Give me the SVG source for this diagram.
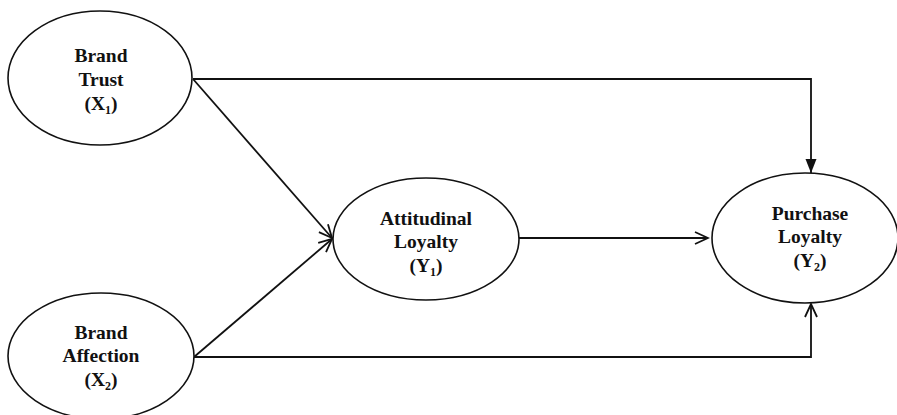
<svg xmlns="http://www.w3.org/2000/svg" width="897" height="415" viewBox="0 0 897 415">
<style>
.node{fill:#fff;stroke:#111;stroke-width:1.6}
.lbl{font-family:"Liberation Serif","Times New Roman",serif;font-weight:bold;font-size:19.5px;fill:#111;text-anchor:middle}
.sub{font-size:12px}
.c{fill:none;stroke:#111;stroke-width:1.8}
</style>
<defs>
<marker id="open" markerWidth="16" markerHeight="16" refX="14" refY="7" orient="auto" markerUnits="userSpaceOnUse">
<path d="M1,1 L14,7 L1,13" fill="none" stroke="#111" stroke-width="1.8"/>
</marker>
<marker id="solid" markerWidth="16" markerHeight="16" refX="14" refY="6" orient="auto" markerUnits="userSpaceOnUse">
<path d="M0,0.5 L14,6 L0,11.5 Z" fill="#111"/>
</marker>
</defs>
<g id="connectors">
<path class="c" d="M193,79 L811,79 L811,173" marker-end="url(#solid)"/>
<path class="c" d="M193,79 L332,238" marker-end="url(#open)"/>
<path class="c" d="M194,357 L332,239" marker-end="url(#open)"/>
<path class="c" d="M509,238 L708,238" marker-end="url(#open)"/>
<path class="c" d="M194,357 L811,357 L811,304" marker-end="url(#open)"/>
</g>
<g id="brand-trust">
<ellipse class="node" cx="100" cy="78" rx="92" ry="67"/>
<text class="lbl" x="101" y="62">Brand</text>
<text class="lbl" x="101" y="86">Trust</text>
<text class="lbl" x="101" y="110">(X<tspan class="sub" dy="4">1</tspan><tspan dy="-4">)</tspan></text>
</g>
<g id="brand-affection">
<ellipse class="node" cx="101" cy="356" rx="93" ry="63"/>
<text class="lbl" x="101" y="339">Brand</text>
<text class="lbl" x="101" y="362">Affection</text>
<text class="lbl" x="101" y="386">(X<tspan class="sub" dy="4">2</tspan><tspan dy="-4">)</tspan></text>
</g>
<g id="attitudinal-loyalty">
<ellipse class="node" cx="426" cy="239" rx="93" ry="61"/>
<text class="lbl" x="426" y="225">Attitudinal</text>
<text class="lbl" x="426" y="248">Loyalty</text>
<text class="lbl" x="426" y="272">(Y<tspan class="sub" dy="4">1</tspan><tspan dy="-4">)</tspan></text>
</g>
<g id="purchase-loyalty">
<ellipse class="node" cx="805" cy="238" rx="93" ry="65"/>
<text class="lbl" x="810" y="220">Purchase</text>
<text class="lbl" x="810" y="243">Loyalty</text>
<text class="lbl" x="810" y="267">(Y<tspan class="sub" dy="4">2</tspan><tspan dy="-4">)</tspan></text>
</g>
</svg>
